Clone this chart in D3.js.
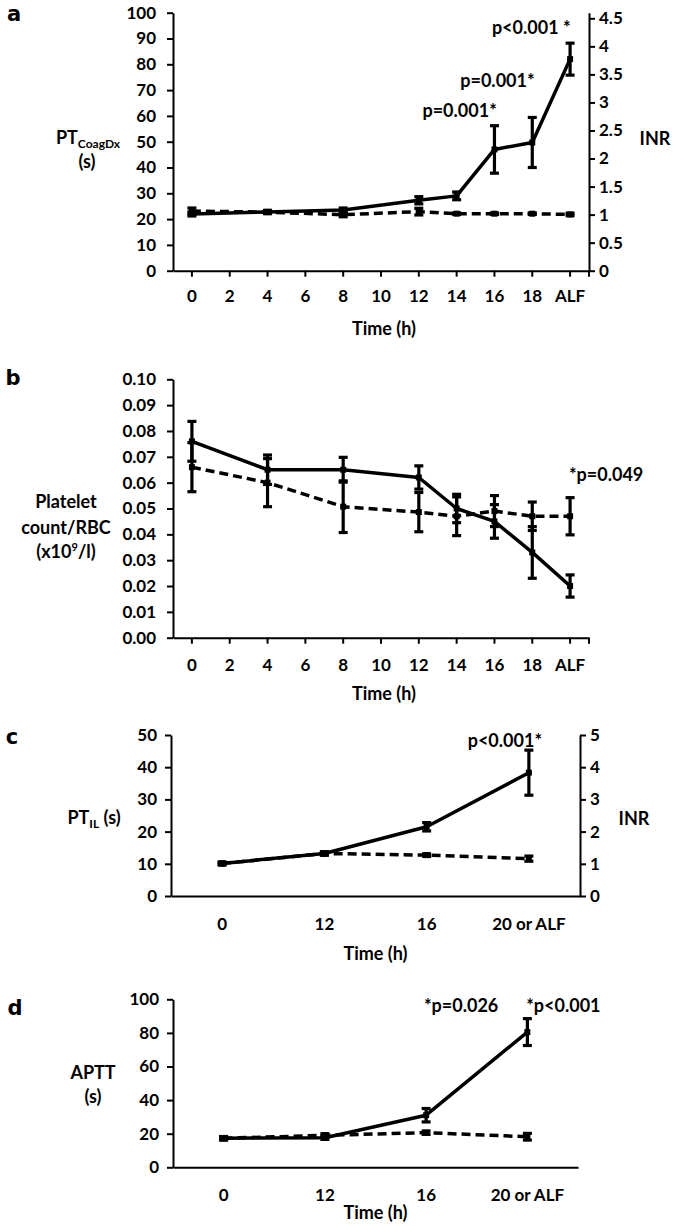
<!DOCTYPE html>
<html><head><meta charset="utf-8">
<script src="https://cdn.jsdelivr.net/npm/d3@7"></script>
<style>
body{margin:0;background:#fff;}
svg text{font-family:Lato,"Noto Sans",sans-serif;font-weight:700;fill:#000;}
</style></head><body>
<svg id="chart" width="675" height="1226"></svg>
<script>
// ---------- DATA ----------
// Panel a: PT CoagDx (s)
const catsA = ["0","2","4","6","8","10","12","14","16","18","ALF"];
const ptAiMean  = [22.0, null, 22.8, null, 23.5, null, 27.3, 29.0, 47.0, 49.7, 82.0];
const ptAiErr   = [0.8,  null, 0.6,  null, 0.8,  null, 1.4,  1.5,  9.2,  9.7,  6.2];
const ptCtlMean = [23.1, null, 22.7, null, 21.7, null, 22.9, 22.1, 22.1, 22.1, 21.8];
const ptCtlErr  = [1.2,  null, 0.6,  null, 0.8,  null, 1.3,  0.3,  0.3,  0.3,  0.5];
const ptTicks   = [0,10,20,30,40,50,60,70,80,90,100];
const inrTicksA = [0,0.5,1,1.5,2,2.5,3,3.5,4,4.5];
const annotA = [
  {cat:"14", text:"p=0.001*", dx:3,  y:110},
  {cat:"16", text:"p=0.001*", dx:3,  y:80},
  {cat:"18", text:"p<0.001 *", dx:-1, y:27}
];

// Panel b: Platelet count / RBC (x10^9/l)
const catsB = ["0","2","4","6","8","10","12","14","16","18","ALF"];
const pltAiMean  = [0.076, null, 0.065, null, 0.065, null, 0.062, 0.050, 0.045, 0.033, 0.020];
const pltAiErr   = [0.0077,null, 0.0057,null, 0.0048,null, 0.0045,0.0055,0.0065,0.0100,0.0043];
const pltCtlMean = [0.066, null, 0.060, null, 0.0507,null, 0.0486,0.047, 0.049, 0.047, 0.047];
const pltCtlErr  = [0.0095,null, 0.0093,null, 0.0100,null, 0.0076,0.0075,0.0060,0.0055,0.0072];
const pltTicks   = [0,0.01,0.02,0.03,0.04,0.05,0.06,0.07,0.08,0.09,0.10];

// Panel c: PT IL (s)
const catsC = ["0","12","16","20 or ALF"];
const ptilAiMean  = [10.1, 13.2, 21.5, 38.3];
const ptilAiErr   = [0.4,  0.5,  1.3,  7.0];
const ptilCtlMean = [10.1, 13.2, 12.7, 11.6];
const ptilCtlErr  = [0.4,  0.5,  0.4,  0.8];
const ptilTicks   = [0,10,20,30,40,50];
const inrTicksC   = [0,1,2,3,4,5];

// Panel d: APTT (s)
const catsD = ["0","12","16","20 or ALF"];
const apttAiMean  = [17.3, 17.6, 31.0, 80.5];
const apttAiErr   = [1.0,  1.0,  4.0,  8.0];
const apttCtlMean = [17.3, 19.0, 20.6, 18.2];
const apttCtlErr  = [1.0,  1.0,  1.0,  2.0];
const apttTicks   = [0,20,40,60,80,100];

// ---------- DRAW ----------
const svg = d3.select("#chart");
const FS = 17;

function styleAxis(sel){
  sel.attr("font-size",null).attr("font-family",null);
  sel.select(".domain").attr("stroke","#000").attr("stroke-width",2);
  sel.selectAll(".tick line").attr("stroke","#000").attr("stroke-width",2);
  sel.selectAll(".tick text").style("font-size",FS+"px");
}

function panel(c){
  const g = svg.append("g");
  const x = d3.scaleBand().domain(c.cats).range([c.x0, c.x1]);
  const cx = k => x(k) + x.bandwidth()/2;
  const y = d3.scaleLinear().domain(c.yDomain).range([c.yBottom, c.yTop]);

  // x axis
  const xa = d3.axisBottom(x).tickSize(c.xTick).tickSizeOuter(0).tickPadding(c.xPad);
  const gx = g.append("g").attr("transform",`translate(0,${c.yBottom})`).call(xa);
  styleAxis(gx);
  if (c.xTick > 0) {
    gx.append("line").attr("x1",c.x1).attr("x2",c.x1).attr("y1",0).attr("y2",c.xTick)
      .attr("stroke","#000").attr("stroke-width",2);
  }
  // left y axis
  const ya = d3.axisLeft(y).tickValues(c.yTicks).tickSize(6).tickSizeOuter(0)
    .tickPadding(c.yPad).tickFormat(c.yFmt);
  const gy = g.append("g").attr("transform",`translate(${c.x0},0)`).call(ya);
  styleAxis(gy);
  // right y axis
  if (c.right) {
    const yr = d3.scaleLinear().domain(c.right.domain).range([c.yBottom, c.yTop]);
    const ra = d3.axisRight(yr).tickValues(c.right.ticks).tickSize(6).tickSizeOuter(0)
      .tickPadding(4).tickFormat(d3.format("~g"));
    const gr = g.append("g").attr("transform",`translate(${c.x1},0)`).call(ra);
    styleAxis(gr);
    g.append("text").attr("x",c.right.lx).attr("y",c.right.ly).attr("text-anchor","middle")
      .attr("dominant-baseline","central").style("font-size",(FS+1)+"px").text("INR");
  }
  // x title
  g.append("text").attr("x",(c.x0+c.x1)/2 + c.titleDx).attr("y",c.titleY)
    .attr("text-anchor","middle").attr("dominant-baseline","central")
    .style("font-size",(FS+1)+"px").text("Time (h)");

  // series
  const series = [
    {mean:c.ctlMean, err:c.ctlErr, dash:"9,5"},
    {mean:c.aiMean,  err:c.aiErr,  dash:null}
  ];
  series.forEach(s => {
    const pts = c.cats.map((k,i)=>({k, m:s.mean[i], e:s.err[i]})).filter(d=>d.m!=null);
    g.append("path").datum(pts)
      .attr("d", d3.line().x(d=>cx(d.k)).y(d=>y(d.m)))
      .attr("fill","none").attr("stroke","#000").attr("stroke-width",3.5)
      .attr("stroke-linejoin","round")
      .attr("stroke-dasharray", s.dash);
    const eb = g.append("g").selectAll("g").data(pts).join("g");
    eb.append("line").attr("x1",d=>cx(d.k)).attr("x2",d=>cx(d.k))
      .attr("y1",d=>y(d.m-d.e)).attr("y2",d=>y(d.m+d.e))
      .attr("stroke","#000").attr("stroke-width",3.2);
    [-1,1].forEach(sg=>{
      eb.append("line").attr("x1",d=>cx(d.k)-4.5).attr("x2",d=>cx(d.k)+4.5)
        .attr("y1",d=>y(d.m+sg*d.e)).attr("y2",d=>y(d.m+sg*d.e))
        .attr("stroke","#000").attr("stroke-width",3.2);
    });
    g.append("g").selectAll("rect").data(pts).join("rect")
      .attr("x",d=>cx(d.k)-3).attr("y",d=>y(d.m)-3).attr("width",6).attr("height",6)
      .attr("fill","#000");
  });

  // annotations
  (c.annot||[]).forEach(a=>{
    g.append("text").attr("x",cx(a.cat)+a.dx).attr("y",a.y).attr("text-anchor","middle")
      .attr("dominant-baseline","central").style("font-size",(FS+1)+"px").text(a.text);
  });

  // panel letter
  g.append("text").attr("x",c.letter[1]).attr("y",c.letter[2]).attr("text-anchor","middle")
    .attr("dominant-baseline","central")
    .style("font-family","'DejaVu Sans',sans-serif").style("font-size","21px").text(c.letter[0]);

  // y title
  const yt = g.append("text").attr("text-anchor","middle").style("font-size",(FS+1)+"px");
  c.ytitle(yt);
  return g;
}

// Panel a
panel({
  cats:catsA, x0:173, x1:589, yTop:12.7, yBottom:270.7, yDomain:[0,100],
  yTicks:ptTicks, yFmt:d3.format("d"), yPad:11, xTick:6, xPad:13,
  titleY:328, titleDx:3,
  aiMean:ptAiMean, aiErr:ptAiErr, ctlMean:ptCtlMean, ctlErr:ptCtlErr,
  right:{domain:[0,4.6], ticks:inrTicksA, lx:655, ly:138},
  annot:annotA, letter:["a",14,14],
  ytitle: t => {
    t.append("tspan").attr("x",88).attr("y",144).text("PT")
      .append("tspan").attr("dy",4).style("font-size","12px").text("CoagDx");
    t.append("tspan").attr("x",87).attr("y",168).text("(s)");
  }
});

// Panel b
panel({
  cats:catsB, x0:173, x1:589, yTop:379.3, yBottom:637.7, yDomain:[0,0.10],
  yTicks:pltTicks, yFmt:d3.format(".2f"), yPad:11, xTick:6, xPad:15,
  titleY:693, titleDx:3,
  aiMean:pltAiMean, aiErr:pltAiErr, ctlMean:pltCtlMean, ctlErr:pltCtlErr,
  annot:[{cat:"ALF", text:"*p=0.049", dx:36, y:474}], letter:["b",13,378],
  ytitle: t => {
    t.append("tspan").attr("x",66).attr("y",508).text("Platelet");
    t.append("tspan").attr("x",66).attr("y",534).text("count/RBC");
    t.append("tspan").attr("x",66).attr("y",558).text("(x10");
    t.append("tspan").attr("dy",-7).style("font-size","11px").text("9");
    t.append("tspan").attr("dy",7).text("/l)");
  }
});

// Panel c
panel({
  cats:catsC, x0:171, x1:580, yTop:735, yBottom:896, yDomain:[0,50],
  yTicks:ptilTicks, yFmt:d3.format("d"), yPad:8, xTick:0, xPad:22,
  titleY:953, titleDx:0,
  aiMean:ptilAiMean, aiErr:ptilAiErr, ctlMean:ptilCtlMean, ctlErr:ptilCtlErr,
  right:{domain:[0,5], ticks:inrTicksC, lx:634, ly:818},
  annot:[{cat:"20 or ALF", text:"p<0.001*", dx:-24, y:740}], letter:["c",12,737],
  ytitle: t => {
    t.attr("x",94).attr("y",824);
    t.append("tspan").text("PT");
    t.append("tspan").attr("dy",4).style("font-size","12px").text("IL");
    t.append("tspan").attr("dy",-4).text(" (s)");
  }
});

// Panel d
panel({
  cats:catsD, x0:173, x1:578, yTop:999.3, yBottom:1167.3, yDomain:[0,100],
  yTicks:apttTicks, yFmt:d3.format("d"), yPad:8, xTick:0, xPad:21.7,
  titleY:1212, titleDx:0,
  aiMean:apttAiMean, aiErr:apttAiErr, ctlMean:apttCtlMean, ctlErr:apttCtlErr,
  annot:[{cat:"16", text:"*p=0.026", dx:35, y:1005},{cat:"20 or ALF", text:"*p<0.001", dx:36, y:1005}],
  letter:["d",15,1008],
  ytitle: t => {
    t.append("tspan").attr("x",93).attr("y",1079).text("APTT");
    t.append("tspan").attr("x",93).attr("y",1103).text("(s)");
  }
});
</script>
</body></html>
